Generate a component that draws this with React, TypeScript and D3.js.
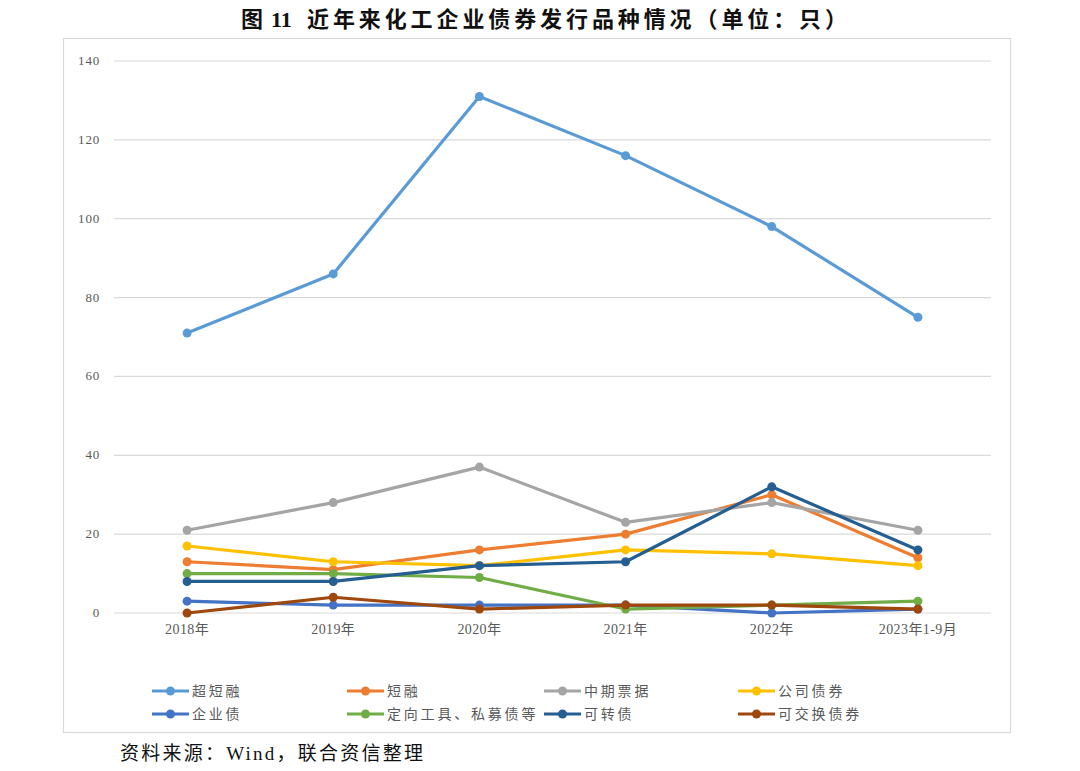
import React, { useRef, useEffect } from "react";
import * as d3 from "d3";

const years = ["2018年", "2019年", "2020年", "2021年", "2022年", "2023年1-9月"];
const seriesNames = [
  "超短融",
  "短融",
  "中期票据",
  "公司债券",
  "企业债",
  "定向工具、私募债等",
  "可转债",
  "可交换债券",
];
const chaoDuanRong = [71, 86, 131, 116, 98, 75];
const duanRong = [13, 11, 16, 20, 30, 14];
const zhongQiPiaoJu = [21, 28, 37, 23, 28, 21];
const gongSiZhai = [17, 13, 12, 16, 15, 12];
const qiYeZhai = [3, 2, 2, 2, 0, 1];
const dingXiang = [10, 10, 9, 1, 2, 3];
const keZhuanZhai = [8, 8, 12, 13, 32, 16];
const keJiaoHuan = [0, 4, 1, 2, 2, 1];
const yTicks = [0, 20, 40, 60, 80, 100, 120, 140];

const colors = [
  "#5B9BD5",
  "#ED7D31",
  "#A5A5A5",
  "#FFC000",
  "#4472C4",
  "#70AD47",
  "#255E91",
  "#9E480E",
];

const App = () => {
  const svgRef = useRef<SVGSVGElement>(null);

  useEffect(() => {
    const width = 1080;
    const height = 771;
    const plot = { left: 114, right: 991, top: 61, bottom: 613 };
    const values = [
      chaoDuanRong,
      duanRong,
      zhongQiPiaoJu,
      gongSiZhai,
      qiYeZhai,
      dingXiang,
      keZhuanZhai,
      keJiaoHuan,
    ];

    const svg = d3
      .select(svgRef.current)
      .attr("width", width)
      .attr("height", height)
      .html("");

    svg.append("rect").attr("width", width).attr("height", height).attr("fill", "#fff");

    // 标题
    const title = svg
      .append("text")
      .attr("x", 241)
      .attr("y", 27)
      .attr("font-size", 22)
      .attr("font-weight", "bold")
      .attr("fill", "#111");
    title.append("tspan").attr("font-family", "Noto Sans CJK SC").text("图");
    title
      .append("tspan")
      .attr("x", 271)
      .attr("font-family", "Liberation Serif")
      .text("11");
    title
      .append("tspan")
      .attr("x", 307)
      .attr("font-family", "Noto Sans CJK SC")
      .attr("letter-spacing", 3.9)
      .text("近年来化工企业债券发行品种情况（单位：只）");

    // 图框
    svg
      .append("rect")
      .attr("x", 63.5)
      .attr("y", 38.5)
      .attr("width", 947)
      .attr("height", 694)
      .attr("fill", "none")
      .attr("stroke", "#d9d9d9")
      .attr("stroke-width", 1.2);

    const x = d3
      .scaleBand<string>()
      .domain(years)
      .range([plot.left, plot.right]);
    const y = d3
      .scaleLinear()
      .domain([0, 140])
      .range([plot.bottom, plot.top]);
    const cx = (i: number) => (x(years[i]) as number) + x.bandwidth() / 2;

    // 网格线
    svg
      .append("g")
      .selectAll("line")
      .data(yTicks)
      .join("line")
      .attr("x1", plot.left)
      .attr("x2", plot.right)
      .attr("y1", (d) => y(d))
      .attr("y2", (d) => y(d))
      .attr("stroke", "#d9d9d9")
      .attr("stroke-width", 1.2);

    svg
      .append("g")
      .selectAll("text")
      .data(yTicks)
      .join("text")
      .attr("x", 100)
      .attr("y", (d) => y(d) + 4)
      .attr("text-anchor", "end")
      .attr("font-family", "Liberation Serif")
      .attr("font-size", 13)
      .attr("letter-spacing", 0.8)
      .attr("fill", "#595959")
      .text((d) => d);

    svg
      .append("g")
      .selectAll("text")
      .data(years)
      .join("text")
      .attr("x", (d) => (x(d) as number) + x.bandwidth() / 2)
      .attr("y", 634)
      .attr("text-anchor", "middle")
      .attr("font-family", "Liberation Serif, Noto Sans CJK SC")
      .attr("font-size", 14)
      .attr("letter-spacing", 0.4)
      .attr("fill", "#595959")
      .text((d) => d);

    const line = d3
      .line<number>()
      .x((_, i) => cx(i))
      .y((d) => y(d));

    values.forEach((vals, k) => {
      const g = svg.append("g");
      g.append("path")
        .attr("d", line(vals))
        .attr("fill", "none")
        .attr("stroke", colors[k])
        .attr("stroke-width", 3.2)
        .attr("stroke-linejoin", "round");
      g.selectAll("circle")
        .data(vals)
        .join("circle")
        .attr("cx", (_, i) => cx(i))
        .attr("cy", (d) => y(d))
        .attr("r", 4.5)
        .attr("fill", colors[k]);
    });

    // 图例
    const legendX = [152, 347, 544, 738];
    const legendY = [691, 714];
    const legendPos = [
      [0, 0],
      [1, 0],
      [2, 0],
      [3, 0],
      [0, 1],
      [1, 1],
      [2, 1],
      [3, 1],
    ];
    legendPos.forEach(([c, r], k) => {
      const lx = legendX[c];
      const ly = legendY[r];
      const g = svg.append("g");
      g.append("line")
        .attr("x1", lx)
        .attr("x2", lx + 37)
        .attr("y1", ly)
        .attr("y2", ly)
        .attr("stroke", colors[k])
        .attr("stroke-width", 3.2);
      g.append("circle")
        .attr("cx", lx + 18.5)
        .attr("cy", ly)
        .attr("r", 4.5)
        .attr("fill", colors[k]);
      g.append("text")
        .attr("x", lx + 40)
        .attr("y", ly + 5)
        .attr("font-family", "Noto Sans CJK SC")
        .attr("font-size", 14)
        .attr("letter-spacing", 2.8)
        .attr("fill", "#595959")
        .text(seriesNames[k]);
    });

    // 资料来源
    svg
      .append("text")
      .attr("x", 120)
      .attr("y", 760)
      .attr("font-family", "Noto Sans CJK SC")
      .attr("font-size", 19)
      .attr("fill", "#111")
      .attr("textLength", 303)
      .attr("lengthAdjust", "spacing")
      .text("资料来源：")
      .append("tspan")
      .attr("font-family", "Liberation Serif")
      .text("Wind")
      .append("tspan")
      .attr("font-family", "Noto Sans CJK SC")
      .text("，联合资信整理");
  }, []);

  return (
    <svg
      ref={svgRef}
      style={{ position: "absolute", left: 0, top: 0, display: "block" }}
    />
  );
};

export default App;
